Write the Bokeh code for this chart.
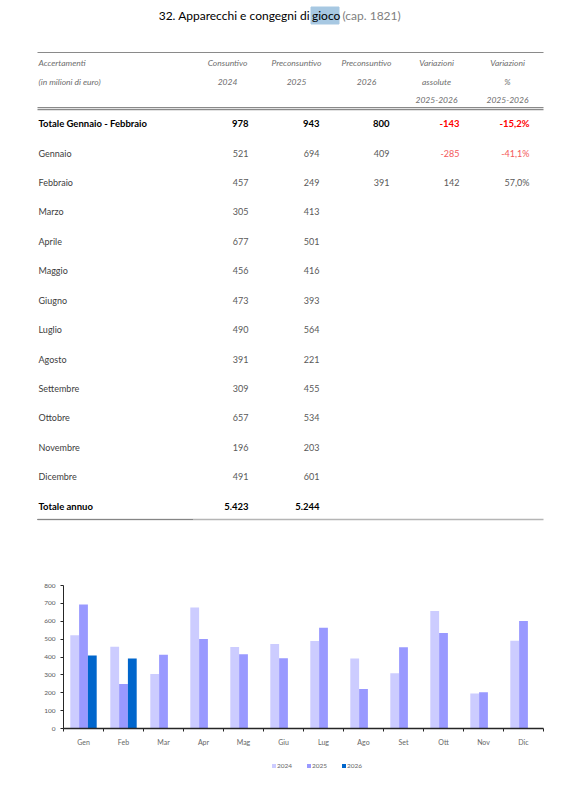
from bokeh.plotting import figure
from bokeh.models import (Range1d, FixedTicker, LinearAxis, Legend, LegendItem,
                          ColumnDataSource)
from bokeh.embed import file_html
from bokeh.resources import INLINE
from bokeh.core.properties import value

# ---------------- data ----------------
months_full = ["Gennaio", "Febbraio", "Marzo", "Aprile", "Maggio", "Giugno",
               "Luglio", "Agosto", "Settembre", "Ottobre", "Novembre", "Dicembre"]
months_short = ["Gen", "Feb", "Mar", "Apr", "Mag", "Giu",
                "Lug", "Ago", "Set", "Ott", "Nov", "Dic"]
v2024 = [521, 457, 305, 677, 456, 473, 490, 391, 309, 657, 196, 491]
v2025 = [694, 249, 413, 501, 416, 393, 564, 221, 455, 534, 203, 601]
v2026 = [409, 391]
y_ticks = [0, 100, 200, 300, 400, 500, 600, 700, 800]
series_names = ["2024", "2025", "2026"]
series_colors = ["#CCCCFF", "#9999FF", "#0066CC"]

FONT = "Lato"
W = 580
T_H = 545


def fmt_int(v):
    s = f"{abs(v):,}".replace(",", ".")
    return ("-" if v < 0 else "") + s


def fmt_pct(v):
    s = f"{v:.1f}".replace(".", ",")
    return s + "%"


# ---------------- table figure (page pixel coordinates) ----------------
t = figure(width=W, height=T_H, x_range=Range1d(0, W), y_range=Range1d(T_H, 0),
           toolbar_location=None, output_backend="svg", x_axis_type=None,
           y_axis_type=None, min_border=0, outline_line_color=None)
t.grid.visible = False

# title
title_y = 15
t.quad(left=[310.5], right=[338.5], top=[6.5], bottom=[23.5], color="#A7C8E2")
t.text(x=[309.5], y=[title_y], text=["32. Apparecchi e congegni di"],
       text_font=value(FONT), text_font_size="12px", text_align="right",
       text_baseline="middle", text_color="#000000")
t.text(x=[311.5], y=[title_y], text=["gioco"], text_font=value(FONT),
       text_font_size="12px", text_align="left", text_baseline="middle",
       text_color="#000000")
t.text(x=[342], y=[title_y], text=["(cap. 1821)"], text_font=value(FONT),
       text_font_size="12px", text_align="left", text_baseline="middle",
       text_color="#808080")

# lines
x_left, x_right = 37, 543
t.segment(x0=[x_left], y0=[52], x1=[x_right], y1=[52], line_color="#8a8a8a", line_width=1.2)
t.segment(x0=[x_left], y0=[107.2], x1=[x_right], y1=[107.2], line_color="#8a8a8a", line_width=1.2)
t.segment(x0=[x_left], y0=[109.2], x1=[x_right], y1=[109.2], line_color="#8a8a8a", line_width=1.2)
t.segment(x0=[x_left], y0=[519], x1=[x_right], y1=[519], line_color="#b5b5b5", line_width=1.5)
t.segment(x0=[x_left], y0=[519], x1=[192], y1=[519], line_color="#555555",
          line_width=1.2, line_dash="1 1")

# header
col_right = [248, 319, 389, 459, 529]
col_center = [227, 296, 366, 436, 507]
hdr_rows_y = [62, 81, 99]
hdr1 = ["Consuntivo", "Preconsuntivo", "Preconsuntivo", "Variazioni", "Variazioni"]
hdr2 = ["2024", "2025", "2026", "assolute", "%"]
hdr3 = ["", "", "", "2025-2026", "2025-2026"]
hdr_style = dict(text_font=value(FONT), text_font_size="8.5px", text_font_style="italic",
                 text_baseline="middle", text_color="#6e6e6e")
t.text(x=[38, 38], y=hdr_rows_y[:2], text=["Accertamenti", "(in milioni di euro)"],
       text_align="left", **hdr_style)
t.text(x=col_center, y=[hdr_rows_y[0]] * 5, text=hdr1, text_align="center", **hdr_style)
t.text(x=col_center, y=[hdr_rows_y[1]] * 5, text=hdr2, text_align="center", **hdr_style)
t.text(x=col_center[3:], y=[hdr_rows_y[2]] * 2, text=hdr3[3:], text_align="center", **hdr_style)

# totals Jan-Feb
tot24 = sum(v2024[:2])
tot25 = sum(v2025[:2])
tot26 = sum(v2026)
dv = tot26 - tot25
dp = dv / tot25 * 100
bold = dict(text_font=value(FONT), text_font_size="9.5px", text_font_style="bold",
            text_baseline="middle")
row_tot_y = 123
t.text(x=[38], y=[row_tot_y], text=["Totale Gennaio - Febbraio"], text_align="left",
       text_color="#000000", **bold)
t.text(x=col_right[:3], y=[row_tot_y] * 3,
       text=[fmt_int(tot24), fmt_int(tot25), fmt_int(tot26)],
       text_align="right", text_color="#000000", **bold)
t.text(x=col_right[3:], y=[row_tot_y] * 2, text=[fmt_int(dv), fmt_pct(dp)],
       text_align="right", text_color="#FF0000", **bold)

# monthly rows
row0, dy = 152.5, 29.43
rows_y = [row0 + i * dy for i in range(12)]
norm = dict(text_font=value(FONT), text_font_size="9px", text_baseline="middle")
t.text(x=[38] * 12, y=rows_y, text=months_full, text_align="left",
       text_color="#404040", **norm)
t.text(x=[col_right[0]] * 12, y=rows_y, text=[fmt_int(v) for v in v2024],
       text_align="right", text_color="#595959", **norm)
t.text(x=[col_right[1]] * 12, y=rows_y, text=[fmt_int(v) for v in v2025],
       text_align="right", text_color="#595959", **norm)
t.text(x=[col_right[2]] * len(v2026), y=rows_y[:len(v2026)],
       text=[fmt_int(v) for v in v2026], text_align="right", text_color="#595959", **norm)
for i, v in enumerate(v2026):
    d = v - v2025[i]
    p_ = d / v2025[i] * 100
    c = "#F4585A" if d < 0 else "#595959"
    t.text(x=col_right[3:], y=[rows_y[i]] * 2, text=[fmt_int(d), fmt_pct(p_)],
           text_align="right", text_color=c, **norm)

# annual totals
row_ann_y = 506
t.text(x=[38], y=[row_ann_y], text=["Totale annuo"], text_align="left",
       text_color="#000000", **bold)
t.text(x=col_right[:2], y=[row_ann_y] * 2,
       text=[fmt_int(sum(v2024)), fmt_int(sum(v2025))],
       text_align="right", text_color="#000000", **bold)

# ---------------- bar chart ----------------
p = figure(frame_width=480, frame_height=143, x_range=Range1d(0, 12),
           y_range=Range1d(0, 800), toolbar_location=None, output_backend="svg",
           x_axis_type=None, y_axis_type=None, min_border_left=63,
           min_border_right=W - 543, min_border_top=40, min_border_bottom=20,
           outline_line_color=None)

bar_w = 0.22
offsets = [-0.22, 0.0, 0.22]
all_series = [v2024, v2025, v2026]
for name, vals, off, col in zip(series_names, all_series, offsets, series_colors):
    src = ColumnDataSource(dict(x=[i + 0.5 + off for i in range(len(vals))], top=vals))
    p.vbar(x="x", top="top", width=bar_w, bottom=0, source=src,
           fill_color=col, line_color=None)

yax = LinearAxis(ticker=FixedTicker(ticks=y_ticks))
yax.axis_line_color = "#262626"
yax.major_tick_line_color = "#262626"
yax.major_tick_out = 3
yax.major_tick_in = 0
yax.minor_tick_line_color = None
yax.major_label_text_font = FONT
yax.major_label_text_font_size = "6.5px"
yax.major_label_text_color = "#595959"
yax.major_label_standoff = 5
p.add_layout(yax, "left")

xax = LinearAxis(ticker=FixedTicker(ticks=[i + 0.5 for i in range(12)],
                                    minor_ticks=list(range(13))))
xax.major_label_overrides = {i + 0.5: m for i, m in enumerate(months_short)}
xax.axis_line_color = "#262626"
xax.axis_line_width = 1.3
xax.major_tick_line_color = None
xax.major_tick_out = 0
xax.major_tick_in = 0
xax.minor_tick_line_color = "#262626"
xax.minor_tick_out = 3
xax.minor_tick_in = 0
xax.major_label_text_font = FONT
xax.major_label_text_font_size = "7px"
xax.major_label_text_color = "#666666"
xax.major_label_standoff = 6
p.add_layout(xax, "below")

# ---------------- legend strip ----------------
L_H = 30
lg = figure(width=W, height=L_H, x_range=Range1d(0, W), y_range=Range1d(0, L_H),
            toolbar_location=None, output_backend="svg", x_axis_type=None,
            y_axis_type=None, min_border=0, outline_line_color=None)
lg.grid.visible = False
items = []
for name, col in zip(series_names, series_colors):
    # zero-height legend proxy, not visible in the strip itself
    r = lg.vbar(x=[-1000], top=[0], bottom=0, width=0.001, fill_color=col,
                line_color=None)
    items.append(LegendItem(label=name, renderers=[r]))
legend = Legend(items=items, orientation="horizontal", location=(271, 9))
legend.label_text_font = FONT
legend.label_text_font_size = "6.5px"
legend.label_text_color = "#666666"
legend.glyph_width = 5
legend.glyph_height = 5
legend.label_standoff = 1
legend.spacing = 9
legend.padding = 0
legend.margin = 0
legend.border_line_color = None
legend.background_fill_alpha = 0
legend.label_height = 8
lg.add_layout(legend)

open("out.html", "w").write(file_html([t, p, lg], INLINE))
